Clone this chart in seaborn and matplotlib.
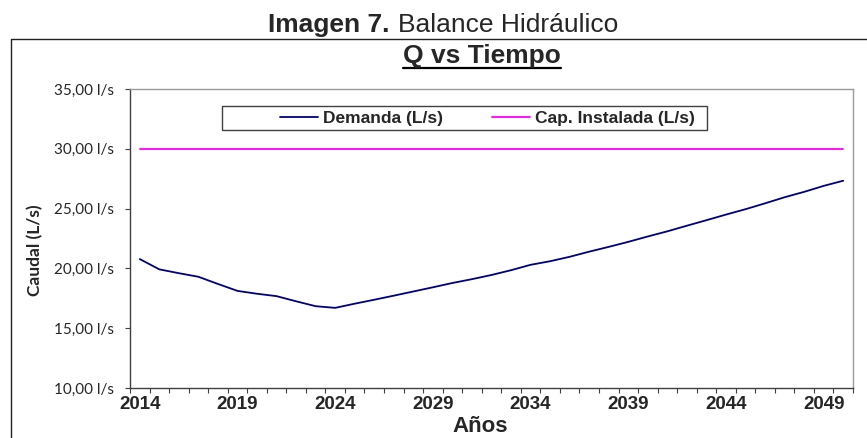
import numpy as np
import pandas as pd
import matplotlib.pyplot as plt
import seaborn as sns
from matplotlib.lines import Line2D
from matplotlib.patches import Rectangle

# datos
years = list(range(2014, 2051))
demanda = [20.78, 19.92, 19.60, 19.30, 18.70, 18.12, 17.88, 17.68, 17.25, 16.84,
           16.70, 17.05, 17.38, 17.72, 18.07, 18.42, 18.78, 19.10, 19.45, 19.85,
           20.30, 20.60, 20.97, 21.40, 21.80, 22.22, 22.67, 23.10, 23.57, 24.03,
           24.50, 24.95, 25.44, 25.95, 26.40, 26.90, 27.33]
cap_instalada = [30.0] * len(years)
series = ['Demanda (L/s)', 'Cap. Instalada (L/s)']
colores = ['#000080', '#FF00FF']
yticks = [10, 15, 20, 25, 30, 35]
label_years = years[::5]

W, H = 867, 438

def fx(px):
    return px / W

def fy(py):
    return 1 - py / H

sns.set_style('white')
plt.rcParams['font.family'] = ['Liberation Sans', 'DejaVu Sans']

df = pd.DataFrame({'idx': range(len(years)), series[0]: demanda, series[1]: cap_instalada})
df_long = df.melt(id_vars='idx', var_name='serie', value_name='caudal')

fig = plt.figure(figsize=(8.67, 4.38), dpi=100)
ax = fig.add_axes([fx(130), fy(388), fx(853) - fx(130), fy(89) - fy(388)])

sns.lineplot(data=df_long, x='idx', y='caudal', hue='serie', hue_order=series,
             palette=dict(zip(series, colores)), linewidth=1.3, ax=ax, legend=False)

# eje x tipo categoria (como excel)
ax.set_xlim(-0.5, len(years) - 0.5)
ax.set_xticks(np.arange(-0.5, len(years), 1))
ax.set_xticklabels([])
ax.set_xticks([years.index(y) for y in label_years], minor=True)
ax.set_xticklabels([str(y) for y in label_years], minor=True, fontweight='bold', fontsize=13.5)
ax.tick_params(axis='x', which='major', direction='out', length=3.6, width=0.8, color='#404040', bottom=True)
ax.tick_params(axis='x', which='minor', length=0, pad=5.5, bottom=True)

ax.set_ylim(10, 35)
ax.set_yticks(yticks)
ax.set_yticklabels([f'{v:.2f}'.replace('.', ',') + ' l/s' for v in yticks],
                   fontfamily='Lato', fontsize=11, color='#262626')
ax.tick_params(axis='y', direction='out', length=3.6, width=0.8, color='#404040', left=True, pad=8)
ax.set_xlabel('')
ax.set_ylabel('')

for s in ['left', 'bottom']:
    ax.spines[s].set_color('#404040')
    ax.spines[s].set_linewidth(1.0)
for s in ['top', 'right']:
    ax.spines[s].set_color('#9a9a9a')
    ax.spines[s].set_linewidth(1.0)

# leyenda
leg = ax.legend(handles=ax.lines[:2], labels=series, ncol=2, frameon=False,
                loc='center left', bbox_to_anchor=(0.195, 0.903), borderpad=0,
                handlelength=2.2, handletextpad=0.3, columnspacing=2.8,
                prop={'weight': 'bold', 'size': 12.5})
ax.add_patch(Rectangle((0.1272, 0.8629), 0.798 - 0.1272, 0.9431 - 0.8629,
                       transform=ax.transAxes, fill=False, edgecolor='#404040', lw=1.0))

# textos
fig.text(fx(390), fy(31.7), 'Imagen 7.', ha='right', va='baseline', fontsize=19, fontweight='bold')
fig.text(fx(398), fy(31.7), 'Balance Hidráulico', ha='left', va='baseline', fontsize=19)
t = fig.text(fx(482), fy(62.5), 'Q vs Tiempo', ha='center', va='baseline', fontsize=19, fontweight='bold')
fig.text(fx(480), fy(432), 'Años', ha='center', va='baseline', fontsize=16, fontweight='bold')
fig.text(fx(35.5), fy(250), 'Caudal (L/s)', rotation=90, ha='center', va='center',
         fontfamily='Lato', fontsize=12.5, fontweight='bold')

# subrayado del titulo
fig.canvas.draw()
bb = t.get_window_extent()
fig.add_artist(Line2D([bb.x0 / W, bb.x1 / W], [fy(68.3), fy(68.3)], color='black', lw=1.6))

# marco del grafico
fig.add_artist(Line2D([fx(11), fx(11), 1.0], [-0.1, fy(39.3), fy(39.3)], color='#202020', lw=1.0))

fig.savefig('out.png', dpi=100)
